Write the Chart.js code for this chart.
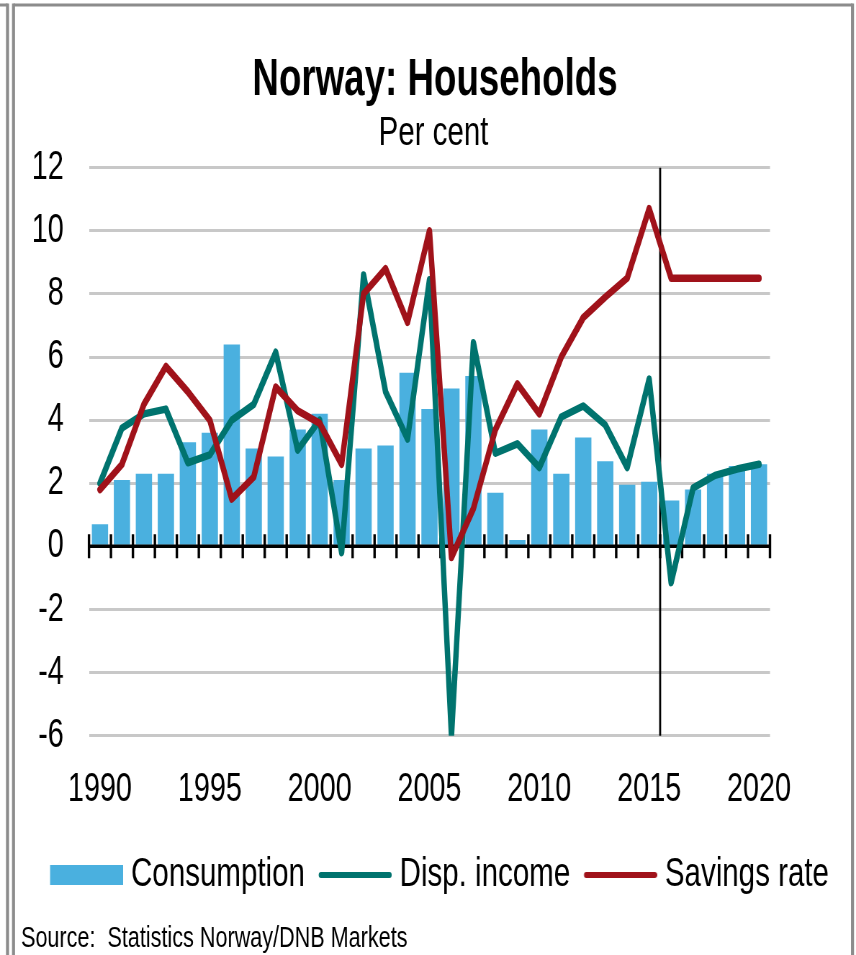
<!DOCTYPE html>
<html><head><meta charset="utf-8">
<script src="https://cdn.jsdelivr.net/npm/chart.js@4/dist/chart.umd.min.js"></script>
<style>html,body{margin:0;padding:0;background:#fff;overflow:hidden}canvas{display:block}</style>
</head><body>
<canvas id="c" width="1189" height="955" style="width:856px;height:955px"></canvas>
<script>
// ---- data ----
const years = [1990,1991,1992,1993,1994,1995,1996,1997,1998,1999,2000,2001,2002,2003,2004,2005,2006,2007,2008,2009,2010,2011,2012,2013,2014,2015,2016,2017,2018,2019,2020];
const consumption = [0.7,2.1,2.3,2.3,3.3,3.6,6.4,3.1,2.85,3.7,4.2,2.1,3.1,3.2,5.5,4.35,5.0,5.4,1.7,0.2,3.7,2.3,3.45,2.7,1.95,2.05,1.45,1.8,2.3,2.55,2.6];
const dispIncome = [2.0,3.75,4.2,4.35,2.65,2.9,4.0,4.5,6.15,3.05,4.0,-0.2,8.6,4.9,3.4,8.45,-6.0,6.45,2.95,3.25,2.5,4.1,4.45,3.85,2.5,5.3,-1.15,1.85,2.25,2.45,2.6];
const savingsRate = [1.8,2.6,4.5,5.7,4.9,4.0,1.5,2.2,5.05,4.3,3.9,2.6,8.0,8.8,7.1,10.0,-0.35,1.2,3.7,5.15,4.2,6.0,7.25,7.9,8.5,10.7,8.5,8.5,8.5,8.5,8.5];
const xTickYears = [1990,1995,2000,2005,2010,2015,2020];
const forecastFrom = 2016;
const seriesNames = ['Consumption','Disp. income','Savings rate'];
const titleText = 'Norway: Households';
const subtitleText = 'Per cent';
const sourceText = 'Source:  Statistics Norway/DNB Markets';

// ---- style ----
const FONT = '"Liberation Sans", Arial, sans-serif';
const BLUE = '#4AB0DF', TEAL = '#00736E', RED = '#A0121A';
const S = 856 / 1189;          // canvas drawn 1189 wide, shown 856 wide (condensed look)
const px = v => v / S;

// legend markers: drawn shifted right inside a wider image so they sit close to their text
function marker(kind, color) {
  const c = document.createElement('canvas');
  c.width = 130; c.height = 24;
  const g = c.getContext('2d');
  if (kind === 'bar') {
    g.fillStyle = color; g.fillRect(28.6, 2, 101.4, 20);
  } else {
    g.strokeStyle = color; g.lineWidth = 6; g.lineCap = 'round';
    g.beginPath(); g.moveTo(31.6, 12); g.lineTo(127, 12); g.stroke();
  }
  return c;
}

const decor = {
  id: 'decor',
  beforeDraw(chart) {
    const ctx = chart.ctx;
    ctx.save();
    ctx.fillStyle = '#fff';
    ctx.fillRect(0, 0, chart.width, chart.height);
    ctx.strokeStyle = '#8c8c8c';
    ctx.lineWidth = 3;
    ctx.beginPath();
    ctx.moveTo(0, 5); ctx.lineTo(px(7.5), 5);
    ctx.moveTo(px(13.5), 5); ctx.lineTo(px(852.5), 5);
    ctx.stroke();
    ctx.lineWidth = 4.2;
    ctx.beginPath();
    ctx.moveTo(px(7.5), 3.5); ctx.lineTo(px(7.5), 955);
    ctx.moveTo(px(13.5), 3.5); ctx.lineTo(px(13.5), 955);
    ctx.moveTo(px(852.5), 3.5); ctx.lineTo(px(852.5), 955);
    ctx.stroke();
    ctx.restore();
  },
  afterDatasetDraw(chart, args) {
    if (args.index !== 0) return;
    const {ctx, chartArea: a} = chart;
    const x = chart.scales.x, y = chart.scales.y;
    const y0 = y.getPixelForValue(0);
    ctx.save();
    ctx.strokeStyle = '#000';
    ctx.lineWidth = 3.5;
    ctx.beginPath(); ctx.moveTo(a.left, y0); ctx.lineTo(a.right, y0); ctx.stroke();
    ctx.lineWidth = 3.4;
    ctx.beginPath();
    for (let i = 0; i <= years.length; i++) {
      const xx = x.getPixelForValue(i - 0.5);
      ctx.moveTo(xx, y0 - 12); ctx.lineTo(xx, y0 + 12);
    }
    ctx.stroke();
    const xd = x.getPixelForValue(years.indexOf(forecastFrom) - 0.5);
    ctx.lineWidth = 2.8;
    ctx.beginPath(); ctx.moveTo(xd, a.top); ctx.lineTo(xd, a.bottom); ctx.stroke();
    ctx.restore();
  },
  afterDraw(chart) {
    const ctx = chart.ctx;
    ctx.save();
    ctx.fillStyle = '#000';
    ctx.textBaseline = 'alphabetic';
    ctx.textAlign = 'center';
    ctx.font = 'bold 51px ' + FONT;
    ctx.fillText(titleText, px(435), 95);
    ctx.font = '41px ' + FONT;
    ctx.fillText(subtitleText, px(433.5), 145);
    ctx.textAlign = 'left';
    ctx.font = '30px ' + FONT;
    ctx.fillText(sourceText, px(21), 946.5);
    ctx.restore();
  }
};

const tickFont = {family: FONT, size: 40};

new Chart(document.getElementById('c'), {
  data: {
    labels: years.map(String),
    datasets: [
      {type: 'bar', label: seriesNames[0], data: consumption, backgroundColor: BLUE,
       barPercentage: 0.74, categoryPercentage: 1, order: 2},
      {type: 'line', label: seriesNames[1], data: dispIncome, borderColor: TEAL, backgroundColor: TEAL,
       borderWidth: 7.5, pointRadius: 0, tension: 0, borderCapStyle: 'round', borderJoinStyle: 'round', order: 1},
      {type: 'line', label: seriesNames[2], data: savingsRate, borderColor: RED, backgroundColor: RED,
       borderWidth: 7.5, pointRadius: 0, tension: 0, borderCapStyle: 'round', borderJoinStyle: 'round', order: 0}
    ]
  },
  options: {
    responsive: false,
    animation: false,
    devicePixelRatio: 1,
    layout: {padding: {left: 12.9, right: 0, top: 167.7, bottom: 49.5}},
    plugins: {
      tooltip: {enabled: false},
      legend: {
        position: 'bottom',
        labels: {
          usePointStyle: true, pointStyleWidth: 111, boxHeight: 20, padding: 0,
          color: '#000', font: {family: FONT, size: 41},
          sort: (a, b) => a.datasetIndex - b.datasetIndex,
          generateLabels(chart) {
            return chart.data.datasets.map((ds, i) => ({
              text: ds.label, datasetIndex: i, hidden: false, fontColor: '#000',
              fillStyle: ds.type === 'bar' ? ds.backgroundColor : ds.borderColor,
              strokeStyle: ds.type === 'bar' ? ds.backgroundColor : ds.borderColor,
              lineWidth: 0,
              pointStyle: marker(ds.type, ds.type === 'bar' ? ds.backgroundColor : ds.borderColor)
            }));
          }
        }
      }
    },
    scales: {
      x: {
        type: 'category', offset: true,
        grid: {display: false}, border: {display: false},
        ticks: {autoSkip: false, maxRotation: 0, minRotation: 0, padding: 22, color: '#000', font: tickFont,
          callback: (v, i) => xTickYears.includes(years[i]) ? String(years[i]) : ''},
        afterFit: s => { s.height = 118.8; }
      },
      y: {
        type: 'linear', position: 'left', min: -6, max: 12,
        ticks: {stepSize: 2, padding: 35, color: '#000', font: tickFont},
        grid: {color: '#c8c8c8', lineWidth: 3, drawTicks: false},
        border: {display: false},
        afterFit: s => { s.width = 110.7; }
      },
      yR: {
        type: 'linear', position: 'right', display: true,
        grid: {display: false}, border: {display: false}, ticks: {display: false},
        afterFit: s => { s.width = 119.5; }
      }
    }
  },
  plugins: [decor]
});
</script>
</body></html>
